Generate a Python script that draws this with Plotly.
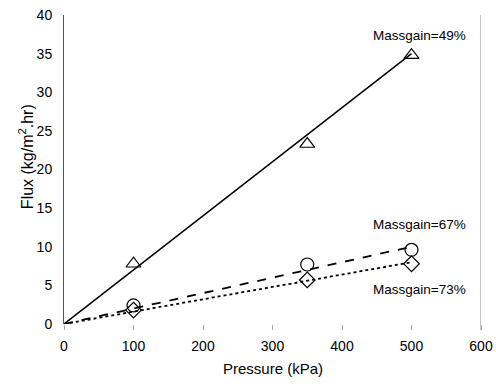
import plotly.graph_objects as go

pressure = [100, 350, 500]
flux_49 = [7.8, 23.3, 34.8]
flux_67 = [2.4, 7.7, 9.6]
flux_73 = [1.8, 5.7, 7.8]

fit_x = [0, 500]
fit_49 = [0, 35.0]
fit_67 = [0, 10.0]
fit_73 = [0, 8.0]

labels = ["Massgain=49%", "Massgain=67%", "Massgain=73%"]
label_y = [37.4, 12.9, 4.5]
label_x = 512

x_ticks = [0, 100, 200, 300, 400, 500, 600]
y_ticks = [0, 5, 10, 15, 20, 25, 30, 35, 40]

FONT = "Liberation Sans, Arial, sans-serif"

fig = go.Figure()
fig.add_trace(go.Scatter(x=fit_x, y=fit_49, mode="lines",
                         line=dict(color="black", width=1.5), showlegend=False))
fig.add_trace(go.Scatter(x=fit_x, y=fit_67, mode="lines",
                         line=dict(color="black", width=1.8, dash="dash"), showlegend=False))
fig.add_trace(go.Scatter(x=fit_x, y=fit_73, mode="lines",
                         line=dict(color="black", width=1.8, dash="dot"), showlegend=False))

fig.add_trace(go.Scatter(x=pressure, y=flux_49, mode="markers",
                         marker=dict(symbol="triangle-up-open", size=13, color="black",
                                     line=dict(width=1.2)), showlegend=False))
fig.add_trace(go.Scatter(x=pressure, y=flux_67, mode="markers",
                         marker=dict(symbol="circle-open", size=13, color="black",
                                     line=dict(width=1.2)), showlegend=False))
fig.add_trace(go.Scatter(x=pressure, y=flux_73, mode="markers",
                         marker=dict(symbol="diamond-open", size=12, color="black",
                                     line=dict(width=1.2)), showlegend=False))

for t, yy in zip(labels, label_y):
    fig.add_annotation(x=label_x, y=yy, text=t, showarrow=False,
                       font=dict(family=FONT, size=13.5, color="black"),
                       xanchor="center", yanchor="middle")

fig.add_annotation(xref="paper", yref="paper", x=0, y=0.54, xshift=-38,
                   text="Flux (kg/m<sup>2</sup>.hr)", textangle=-90, showarrow=False,
                   font=dict(family=FONT, size=16, color="black"),
                   xanchor="center", yanchor="middle")
fig.add_annotation(xref="paper", yref="paper", x=0.5, y=0, yshift=-44,
                   text="Pressure (kPa)", showarrow=False,
                   font=dict(family=FONT, size=15, color="black"),
                   xanchor="center", yanchor="middle")

fig.add_shape(type="line", xref="x", yref="paper", x0=600, x1=600, y0=-0.02, y1=1,
              line=dict(color="#888888", width=1))

fig.update_layout(
    width=496, height=388,
    margin=dict(l=64, r=15, t=15, b=64),
    paper_bgcolor="white", plot_bgcolor="white",
    font=dict(family=FONT, size=14, color="black"),
    xaxis=dict(range=[0, 600], tickvals=x_ticks, showgrid=False, zeroline=False,
               showline=False, ticks="outside", ticklen=5, tickcolor="#aaaaaa",
               ticklabelstandoff=4, tickfont=dict(size=14), automargin=False),
    yaxis=dict(range=[0, 40], tickvals=y_ticks, showgrid=False, zeroline=False,
               showline=True, linecolor="#555555", linewidth=1, ticks="",
               ticklabelstandoff=8, tickfont=dict(size=14), automargin=False),
)

fig.write_html("out.html")
